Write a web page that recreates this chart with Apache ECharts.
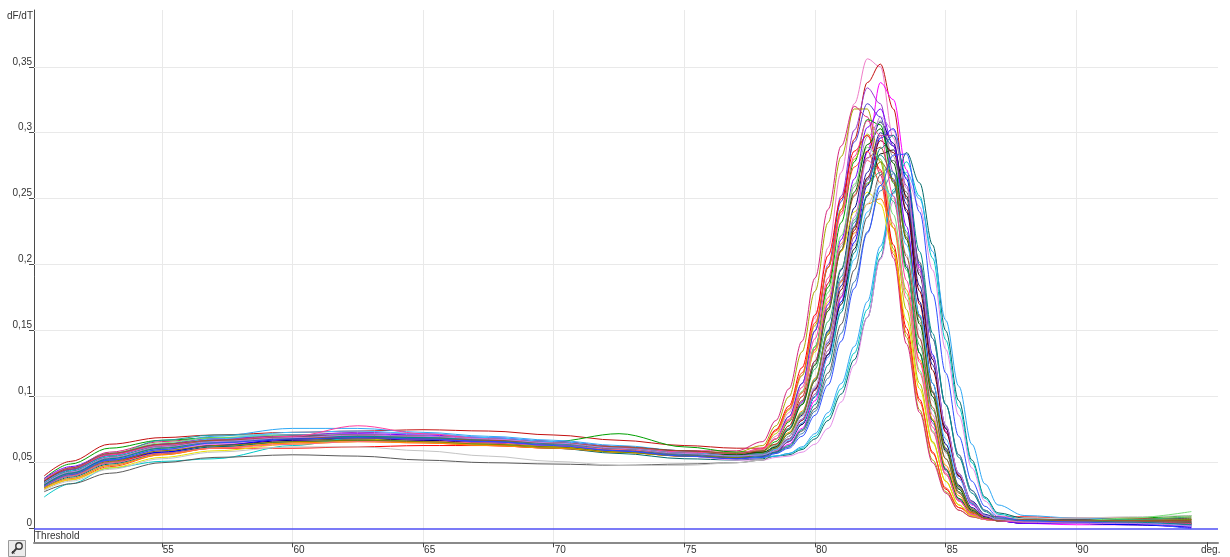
<!DOCTYPE html>
<html>
<head>
<meta charset="utf-8">
<script src="https://cdn.jsdelivr.net/npm/echarts@6/dist/echarts.min.js"></script>
<style>
  html, body { margin: 0; padding: 0; background: #ffffff; }
  #chart { width: 1230px; height: 557px; }
</style>
</head>
<body>
<div id="chart"></div>
<script>
// Temperatures (deg C) at which every derivative curve is sampled
const temps = [50.5, 51.5, 53, 55, 57, 60, 62.5, 65, 67.5, 70, 72.5, 75, 77, 78,
  78.5, 79, 79.5, 80, 80.5, 81, 81.5, 82, 82.5, 83, 83.5, 84, 84.5, 85, 85.5, 86, 86.5, 87,
  88, 90, 92, 94.4];

// dF/dT per well
const A1 = [.035,.043,.054,.062,.066,.069,.071,.070,.067,.064,.060,.057,.056,.058, .070,.088,.116,.160,.213,.270,.322,.356,.350,.296,.220,.145,.086,.046,.022,.011,.007,.006, .005,.004,.005,.003];
const A2 = [.040,.051,.064,.069,.071,.073,.074,.075,.074,.071,.067,.063,.061,.061, .064,.078,.100,.136,.186,.242,.295,.338,.352,.318,.250,.170,.104,.058,.028,.013,.008,.006, .007,.006,.006,.005];
const A3 = [.033,.041,.051,.059,.064,.067,.068,.067,.065,.063,.059,.055,.053,.054, .058,.064,.076,.097,.130,.175,.228,.285,.338,.325,.272,.198,.128,.074,.038,.018,.009,.006, .004,.003,.003,.001];
const A4 = [.037,.046,.057,.064,.068,.071,.073,.072,.069,.066,.062,.058,.057,.059, .068,.085,.110,.150,.200,.252,.302,.334,.322,.270,.200,.133,.080,.044,.022,.011,.007,.006, .006,.005,.006,.004];
const A5 = [.034,.043,.054,.062,.066,.069,.069,.068,.066,.064,.061,.058,.058,.063, .078,.100,.134,.180,.232,.282,.318,.318,.278,.212,.145,.090,.052,.028,.014,.009,.007,.006, .006,.006,.007,.008];
const A6 = [.036,.046,.058,.066,.069,.070,.071,.069,.067,.065,.062,.059,.059,.066, .082,.106,.142,.190,.242,.290,.320,.312,.268,.205,.140,.088,.050,.027,.014,.009,.007,.006, .005,.005,.004,.003];
const A7 = [.033,.042,.053,.061,.065,.068,.069,.068,.066,.064,.060,.057,.056,.059, .068,.085,.110,.150,.198,.248,.293,.322,.312,.264,.198,.133,.082,.045,.023,.012,.008,.006, .006,.005,.005,.004];
const A8 = [.032,.040,.050,.058,.063,.067,.068,.067,.065,.062,.059,.055,.053,.055, .060,.070,.086,.112,.150,.196,.243,.286,.308,.292,.240,.172,.110,.064,.033,.016,.009,.006, .004,.004,.003,.002];
const B1 = [.038,.049,.061,.067,.069,.070,.070,.069,.068,.066,.072,.062,.058,.059, .066,.081,.103,.138,.183,.232,.278,.310,.306,.262,.198,.133,.082,.045,.023,.012,.008,.006, .007,.007,.008,.010];
const B2 = [.031,.038,.048,.057,.062,.066,.067,.066,.064,.062,.059,.055,.054,.056, .062,.076,.095,.125,.167,.214,.259,.297,.309,.282,.223,.157,.100,.058,.030,.014,.008,.006, .005,.005,.006,.006];
const B3 = [.035,.044,.054,.061,.065,.068,.068,.066,.064,.062,.059,.056,.056,.060, .072,.090,.116,.154,.198,.242,.280,.299,.280,.228,.166,.110,.066,.036,.018,.010,.007,.006, .006,.006,.007,.009];
const B4 = [.034,.042,.051,.057,.061,.061,.062,.063,.063,.061,.058,.055,.055,.061, .075,.093,.122,.162,.207,.250,.286,.298,.272,.215,.152,.098,.058,.030,.016,.012,.010,.009, .009,.008,.008,.007];
const B5 = [.030,.037,.047,.056,.061,.065,.066,.065,.063,.061,.058,.055,.055,.060, .074,.091,.118,.156,.198,.240,.274,.286,.262,.208,.148,.096,.057,.031,.016,.010,.008,.007, .006,.006,.005,.004];
const B6 = [.031,.039,.049,.057,.062,.066,.067,.066,.064,.061,.057,.053,.052,.053, .055,.056,.060,.068,.082,.102,.128,.160,.205,.255,.285,.262,.215,.150,.097,.052,.024,.012, .008,.006,.006,.005];
const B7 = [.024,.034,.046,.051,.053,.063,.069,.069,.067,.064,.060,.056,.054,.054, .055,.057,.061,.070,.085,.106,.133,.166,.210,.257,.278,.252,.205,.143,.092,.050,.023,.011, .007,.006,.006,.004];
const B8 = [.036,.045,.056,.064,.070,.076,.076,.073,.070,.067,.063,.059,.056,.055, .055,.057,.062,.072,.088,.110,.138,.172,.214,.254,.270,.250,.210,.158,.108,.064,.034,.018, .010,.008,.007,.005];
const C1 = [.033,.041,.051,.059,.064,.068,.069,.068,.066,.063,.059,.055,.052,.052, .054,.055,.058,.064,.076,.096,.124,.160,.204,.248,.266,.244,.196,.136,.086,.046,.021,.010, .006,.005,.004,.002];
const C2 = [.031,.038,.048,.056,.061,.065,.066,.065,.063,.061,.058,.055,.054,.056, .062,.073,.089,.114,.148,.187,.224,.246,.250,.228,.181,.128,.083,.048,.025,.012,.007,.006, .005,.005,.006,.007];
const C3 = [.030,.037,.046,.054,.059,.064,.066,.066,.064,.062,.058,.055,.055,.058, .068,.082,.103,.134,.172,.210,.240,.255,.246,.210,.158,.106,.065,.036,.018,.010,.007,.006, .005,.005,.005,.004];
const C4 = [.036,.044,.052,.058,.063,.068,.069,.068,.066,.063,.059,.055,.054,.055, .058,.066,.079,.100,.132,.172,.217,.260,.296,.303,.265,.200,.132,.078,.040,.019,.010,.006, .004,.004,.003,.001];
const C5 = [.034,.043,.054,.062,.066,.069,.070,.069,.067,.064,.060,.057,.055,.056, .060,.068,.083,.106,.141,.184,.229,.270,.300,.290,.246,.184,.124,.076,.042,.021,.011,.007, .005,.004,.004,.003];
const C6 = [.035,.044,.055,.062,.066,.068,.069,.069,.067,.064,.060,.056,.054,.055, .058,.066,.079,.100,.132,.170,.212,.252,.284,.287,.252,.192,.128,.076,.040,.019,.010,.006, .006,.006,.005,.004];
const C7 = [.033,.043,.056,.067,.071,.071,.070,.069,.067,.064,.061,.058,.056,.057, .061,.072,.088,.113,.149,.191,.232,.265,.283,.270,.225,.162,.104,.061,.032,.015,.008,.006, .006,.005,.006,.007];
const C8 = [.036,.045,.056,.063,.067,.070,.071,.070,.068,.066,.062,.059,.057,.058, .059,.068,.082,.105,.139,.181,.226,.266,.294,.285,.242,.180,.120,.073,.040,.020,.010,.007, .007,.007,.006,.006];
const D1 = [.038,.047,.057,.064,.068,.071,.072,.071,.069,.066,.062,.058,.056,.057, .062,.076,.096,.127,.170,.219,.265,.304,.318,.290,.229,.161,.103,.060,.031,.015,.008,.006, .004,.004,.004,.002];
const D2 = [.028,.034,.042,.050,.054,.056,.055,.052,.050,.049,.048,.049,.050,.052, .058,.062,.074,.091,.118,.155,.196,.236,.268,.279,.255,.202,.144,.094,.056,.029,.014,.008, .007,.007,.007,.008];
const D3 = [.034,.043,.054,.062,.066,.069,.070,.069,.067,.065,.061,.057,.055,.057, .063,.076,.094,.121,.157,.197,.234,.262,.270,.248,.196,.139,.090,.053,.028,.013,.008,.006, .006,.006,.007,.009];
const D4 = [.029,.036,.045,.053,.058,.062,.062,.059,.055,.051,.048,.048,.050,.052, .060,.070,.085,.108,.140,.178,.215,.246,.263,.250,.208,.150,.097,.058,.031,.015,.008,.006, .008,.008,.009,.010];
const D5 = [.037,.046,.057,.065,.069,.071,.071,.070,.068,.065,.061,.058,.057,.060, .068,.082,.104,.138,.179,.222,.261,.289,.280,.238,.178,.120,.074,.041,.021,.011,.007,.006, .007,.006,.008,.013];
const D6 = [.034,.042,.052,.060,.065,.069,.070,.069,.067,.064,.060,.056,.054,.055, .057,.062,.072,.089,.114,.148,.187,.225,.256,.269,.250,.200,.144,.094,.056,.029,.014,.008, .006,.005,.005,.003];
const D7 = [.032,.040,.050,.057,.061,.064,.066,.066,.065,.063,.060,.057,.056,.060, .068,.082,.103,.136,.175,.216,.253,.279,.271,.231,.174,.118,.073,.041,.021,.011,.007,.006, .006,.006,.006,.005];
const D8 = [.035,.044,.055,.063,.067,.070,.071,.070,.068,.065,.062,.058,.056,.058, .062,.075,.094,.124,.165,.211,.255,.291,.303,.277,.219,.155,.100,.059,.030,.014,.008,.006, .005,.005,.005,.005];
const E1 = [.033,.041,.051,.059,.063,.066,.067,.066,.064,.062,.058,.055,.054,.056, .061,.072,.087,.112,.147,.188,.228,.261,.278,.265,.221,.160,.103,.061,.032,.015,.008,.006, .006,.006,.006,.007];
const E2 = [.035,.045,.056,.064,.068,.070,.071,.070,.068,.065,.061,.057,.055,.056, .058,.066,.080,.102,.135,.176,.221,.264,.298,.298,.260,.196,.130,.078,.041,.020,.010,.006, .005,.005,.004,.003];
const E3 = [.035,.044,.055,.063,.068,.073,.074,.072,.069,.066,.062,.058,.055,.056, .060,.067,.080,.100,.130,.166,.204,.240,.260,.252,.215,.162,.110,.068,.038,.019,.010,.007, .006,.005,.005,.002];
const E4 = [.037,.046,.056,.063,.067,.070,.078,.072,.068,.065,.062,.058,.057,.061, .068,.083,.107,.144,.190,.238,.282,.309,.298,.252,.188,.126,.077,.042,.021,.011,.007,.006, .005,.005,.005,.004];
const E5 = [.033,.042,.053,.061,.066,.069,.070,.069,.067,.065,.061,.057,.055,.056, .058,.063,.075,.094,.124,.164,.209,.253,.288,.298,.268,.210,.148,.094,.054,.027,.013,.007, .006,.006,.005,.003];
const E6 = [.036,.046,.057,.064,.067,.069,.069,.068,.067,.065,.062,.059,.057,.059, .064,.078,.097,.127,.167,.211,.252,.281,.289,.263,.206,.144,.092,.053,.027,.013,.008,.006, .007,.006,.006,.006];
const E7 = [.032,.041,.052,.060,.065,.068,.069,.068,.066,.063,.059,.055,.053,.054, .057,.061,.070,.086,.109,.142,.182,.224,.260,.283,.284,.240,.178,.118,.070,.036,.017,.009, .006,.005,.004,.000];
const E8 = [.034,.043,.054,.062,.066,.069,.071,.070,.068,.065,.061,.057,.055,.056, .059,.068,.083,.107,.143,.188,.236,.280,.312,.302,.258,.194,.130,.078,.042,.020,.010,.007, .005,.004,.004,.002];

const wells = ['A1','A2','A3','A4','A5','A6','A7','A8','B1','B2','B3','B4','B5','B6','B7','B8',
  'C1','C2','C3','C4','C5','C6','C7','C8','D1','D2','D3','D4','D5','D6','D7','D8',
  'E1','E2','E3','E4','E5','E6','E7','E8'];
const wellCurves = [A1,A2,A3,A4,A5,A6,A7,A8,B1,B2,B3,B4,B5,B6,B7,B8,
  C1,C2,C3,C4,C5,C6,C7,C8,D1,D2,D3,D4,D5,D6,D7,D8,E1,E2,E3,E4,E5,E6,E7,E8];

// Axis ticks and the detection threshold
const xTicks = [55, 60, 65, 70, 75, 80, 85, 90];
const xUnitTick = 95;
const yTicks = [0, 0.05, 0.1, 0.15, 0.2, 0.25, 0.3, 0.35];
const thresholdLevel = 0;

// Line colours, one per well
const palette = ['#f07cc8','#c41010','#ff00ff','#9933cc','#a8a800','#d6287e','#4b3ad6','#000080',
  '#00a000','#a0a0a0','#b4c400','#ff0000','#ff4a1c','#006a6a','#00c8c8','#2fa8f5',
  '#e58be8','#ff8c00','#e8e000','#0000ff','#1e1ea0','#1a1a1a','#1ea0a0','#800000',
  '#7a00ff','#5a5a5a','#3cb371','#c4c4c4','#78e078','#4682b4','#ff6680','#006400',
  '#808000','#a040a0','#40c0ff','#ff3fa0','#008b8b','#a0522d','#3050ff','#c080e0'];

const FONT = '"Liberation Sans", Arial, sans-serif';
const TEXT = '#333333';

const chart = echarts.init(document.getElementById('chart'), null, { renderer: 'canvas' });

const curveSeries = wellCurves.map((vals, i) => ({
  name: wells[i],
  type: 'line',
  data: temps.map((t, j) => [t, vals[j]]),
  showSymbol: false,
  smooth: 0.35,
  smoothMonotone: 'x',
  silent: true,
  z: 3,
  lineStyle: { width: 1, color: palette[i] },
  itemStyle: { color: palette[i] }
}));

// light grid behind the curves
const gridSeries = {
  type: 'line',
  data: [],
  silent: true,
  z: 1,
  markLine: {
    z: 1,
    silent: true,
    symbol: 'none',
    animation: false,
    label: { show: false },
    lineStyle: { color: '#e9e9e9', width: 1, type: 'solid' },
    data: [
      ...xTicks.map(v => ({ xAxis: v })),
      ...yTicks.filter(v => v > 0).map(v => ({ yAxis: v }))
    ]
  }
};

// threshold line with its caption
const thresholdSeries = {
  type: 'line',
  data: [],
  silent: true,
  z: 4,
  markLine: {
    z: 4,
    silent: true,
    symbol: 'none',
    animation: false,
    lineStyle: { color: '#4f4ff5', width: 1.5, type: 'solid' },
    label: {
      show: true,
      position: 'insideStartBottom',
      formatter: 'Threshold',
      color: TEXT,
      fontFamily: FONT,
      fontSize: 10,
      distance: [1, 3]
    },
    data: [{ yAxis: thresholdLevel }]
  }
};

chart.setOption({
  animation: false,
  backgroundColor: '#ffffff',
  grid: { left: 34, right: 12, top: 10, bottom: 14.7 },
  xAxis: {
    type: 'value',
    min: 50.11,
    max: 95.42,
    axisLine: { onZero: false, lineStyle: { color: '#8a8a8a', width: 2 } },
    axisTick: {
      show: true,
      length: 5,
      customValues: [...xTicks, xUnitTick],
      lineStyle: { color: '#444444', width: 1 }
    },
    axisLabel: {
      customValues: xTicks,
      align: 'left',
      margin: 3,
      padding: [0, 0, 0, 1],
      color: TEXT,
      fontFamily: FONT,
      fontSize: 10
    },
    splitLine: { show: false }
  },
  yAxis: {
    type: 'value',
    min: -0.0103,
    max: 0.393,
    name: 'dF/dT',
    nameLocation: 'end',
    nameGap: -1,
    nameTextStyle: {
      align: 'right',
      verticalAlign: 'top',
      color: TEXT,
      fontFamily: FONT,
      fontSize: 10,
      padding: [0, 1, 0, 0]
    },
    axisLine: { show: true, lineStyle: { color: '#4a4a4a', width: 1 } },
    axisTick: {
      show: true,
      length: 5,
      customValues: yTicks,
      lineStyle: { color: '#4a4a4a', width: 1 }
    },
    axisLabel: {
      customValues: yTicks,
      formatter: v => String(v).replace('.', ','),
      margin: 2,
      verticalAlign: 'bottom',
      color: TEXT,
      fontFamily: FONT,
      fontSize: 10
    },
    splitLine: { show: false }
  },
  graphic: [
    {
      type: 'text',
      left: 1201,
      top: 545,
      silent: true,
      style: { text: 'deg.', fill: TEXT, font: '10px ' + FONT }
    },
    {
      type: 'group',
      left: 8,
      top: 540,
      silent: true,
      children: [
        { type: 'rect', shape: { x: 0.5, y: 0.5, width: 17, height: 16 },
          style: { fill: '#ececec', stroke: '#9a9a9a', lineWidth: 1 } },
        { type: 'circle', shape: { cx: 11, cy: 6, r: 3.2 },
          style: { fill: 'none', stroke: '#3a3a3a', lineWidth: 1.4 } },
        { type: 'line', shape: { x1: 8.6, y1: 8.4, x2: 4, y2: 13.5 },
          style: { stroke: '#3a3a3a', lineWidth: 2 } },
        { type: 'line', shape: { x1: 4, y1: 11, x2: 6.5, y2: 13.5 },
          style: { stroke: '#3a3a3a', lineWidth: 1 } }
      ]
    }
  ],
  series: [gridSeries, thresholdSeries, ...curveSeries]
});
</script>
</body>
</html>
